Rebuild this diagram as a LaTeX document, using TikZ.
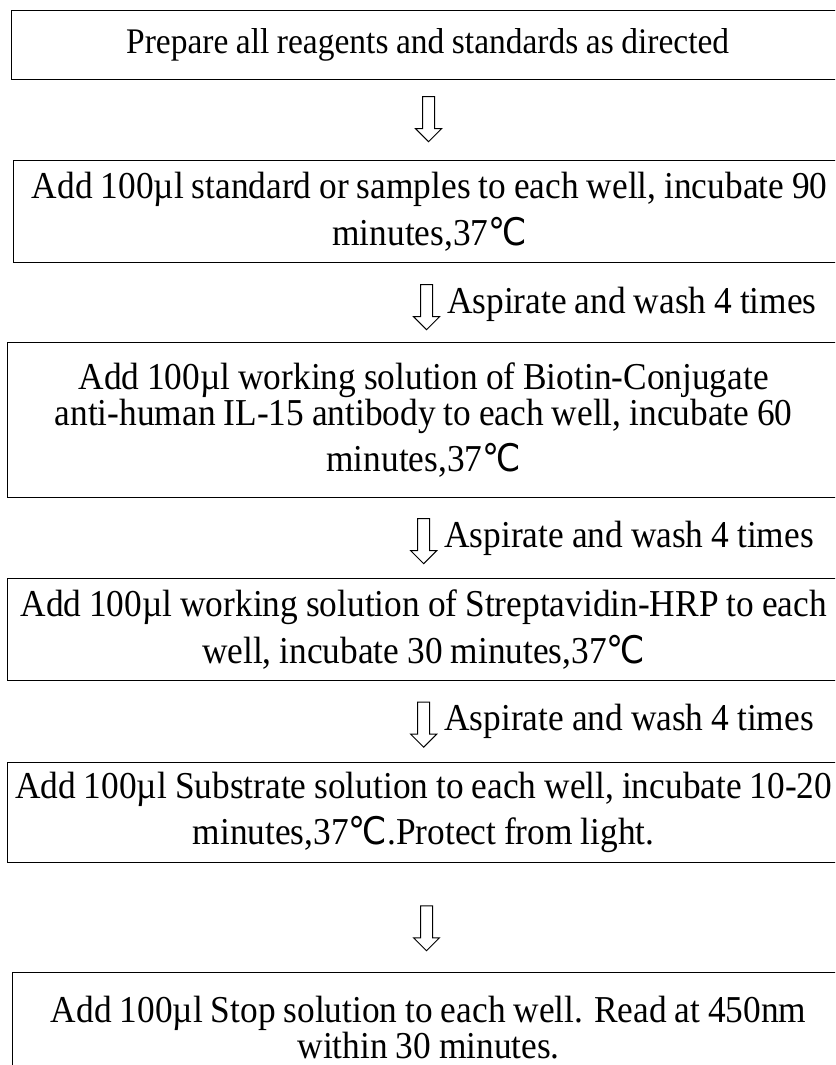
\documentclass[tikz,border=0pt]{standalone}
\usepackage{fontspec}
\setmainfont{Liberation Serif}[FakeStretch=0.93, WordSpace=0.9]
\newfontfamily\symfont{DejaVu Sans}[FakeStretch=0.9]
\usetikzlibrary{calc}
\usetikzlibrary{positioning}
\usetikzlibrary{shapes.arrows}
\newcommand{\degc}{{\symfont ℃}}

\begin{document}
\begin{tikzpicture}[x=1pt, y=-1pt,
		box/.style={rectangle, draw=black, line width=1.3pt, anchor=north west, minimum width=832pt, text width=828pt, align=flush center, inner sep=0pt, font=\fontsize{38}{36}\selectfont},
		downarrow/.style={single arrow, draw=black, line width=1pt, shape border rotate=270, single arrow head extend=7pt, inner sep=5.5pt, minimum height=45pt, minimum width=25pt},
		washnote/.style={inner sep=0pt, font=\fontsize{38}{36}\selectfont}]
				\useasboundingbox (0,0) rectangle (835,1065);
				\clip (0,0) rectangle (835,1065);
				\node[box, minimum height=69pt, font=\fontsize{36}{36}\selectfont] (prep) at (11,10) {Prepare all reagents and standards as directed};
				\node[box, minimum height=102pt] (std) at (13,160) {Add 100µl standard or samples to each well, incubate 90\\[9pt] minutes,37\degc};
				\node[box, minimum height=155pt] (biotin) at (7,342) {Add 100µl working solution of Biotin-Conjugate\\ anti-human IL-15 antibody to each well, incubate 60\\[9pt] minutes,37\degc};
				\node[box, minimum height=102pt] (hrp) at (7,578) {Add 100µl working solution of Streptavidin-HRP to each\\[9pt] well, incubate 30 minutes,37\degc};
				\node[box, minimum height=100pt] (subst) at (7,762) {Add 100µl Substrate solution to each well, incubate 10-20\\[9pt] minutes,37\degc.Protect from light.};
				\node[box, minimum height=110pt] (stop) at (12,972) {Add 100µl Stop solution to each well. Read at 450nm\\ within 30 minutes.};
				\node[downarrow] (a1) at ($(prep.south)!0.45!(std.north)$) {};
				\node[downarrow] (a2) at ($(std.south)!0.52!(biotin.north)$) {};
				\node[downarrow] (a3) at ($(biotin.south)!0.5!(hrp.north)$) {};
				\node[downarrow] (a4) at ($(hrp.south)!0.5!(subst.north)$) {};
				\node[downarrow] (a5) at ($(subst.south)!0.57!(stop.north)$) {};
				\node[washnote, right=14pt of a2] (w2) {Aspirate and wash 4 times};
				\node[washnote, right=14pt of a3] (w3) {Aspirate and wash 4 times};
				\node[washnote, right=14pt of a4] (w4) {Aspirate and wash 4 times};
		\end{tikzpicture}
\end{document}
